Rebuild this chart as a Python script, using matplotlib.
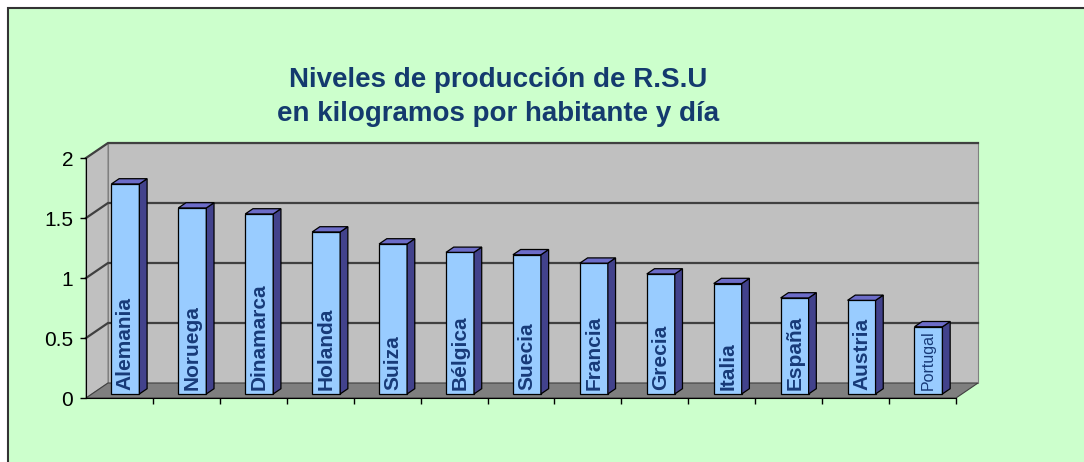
import matplotlib
matplotlib.use("Agg")
import matplotlib.pyplot as plt
from matplotlib.patches import Polygon, Rectangle

# data
paises = ["Alemania", "Noruega", "Dinamarca", "Holanda", "Suiza", "Bélgica",
          "Suecia", "Francia", "Grecia", "Italia", "España", "Austria", "Portugal"]
kg_hab_dia = [1.75, 1.55, 1.50, 1.35, 1.25, 1.18, 1.16, 1.09, 1.00, 0.92, 0.80, 0.78, 0.56]
y_ticks = [0, 0.5, 1, 1.5, 2]
y_tick_labels = ["0", "0.5", "1", "1.5", "2"]
title_lines = ["Niveles de producción de R.S.U", "en kilogramos por habitante y día"]

W, H = 1084, 462
plt.rcParams["font.family"] = ["Liberation Sans", "DejaVu Sans"]

fig = plt.figure(figsize=(W / 100, H / 100), dpi=100)
fig.patch.set_facecolor("white")
fig.patches.append(Rectangle((7.5 / W, -0.1), 1.2, (H - 7.5) / H + 0.1,
                             transform=fig.transFigure, facecolor="#ccffcc",
                             edgecolor="#333333", linewidth=1.5, zorder=-5))

ax = fig.add_axes([86 / W, (H - 398) / H, 870 / W, 240 / H])
ax.set_zorder(1)
ax.patch.set_visible(False)
n = len(paises)
xmin, xmax = -0.5, n - 0.5
ymax = 2.0
ax.set_xlim(xmin, xmax)
ax.set_ylim(0, ymax)

# 3D depth offsets (data units)
dx = 22 / 870 * n
dy = 15 / 120
wall = "#c0c0c0"
grid_c = "#404040"

# back wall, left wall, floor
ax.add_patch(Polygon([(xmin + dx, dy), (xmax + dx, dy), (xmax + dx, ymax + dy),
                      (xmin + dx, ymax + dy)], closed=True, facecolor=wall,
                     edgecolor="#808080", lw=0.8, clip_on=False, zorder=1))
ax.add_patch(Polygon([(xmin, 0), (xmin + dx, dy), (xmin + dx, ymax + dy), (xmin, ymax)],
                     closed=True, facecolor=wall, edgecolor="#808080", lw=0.8,
                     clip_on=False, zorder=1))
ax.add_patch(Polygon([(xmin, 0), (xmax, 0), (xmax + dx, dy), (xmin + dx, dy)],
                     closed=True, facecolor="#7f7f7f", edgecolor="#404040", lw=0.8,
                     clip_on=False, zorder=2))

for v in y_ticks[1:]:
    ax.plot([xmin, xmin + dx, xmax + dx], [v, v + dy, v + dy], color=grid_c,
            lw=1.6, clip_on=False, zorder=1.5)

# bars with front face, side and top
f = 0.27
depth = 0.35
bw = 0.418
xs = [i + f * dx for i in range(n)]
bars = ax.bar(xs, kg_hab_dia, width=bw, bottom=f * dy, color="#99ccff",
              edgecolor="black", linewidth=0.9, zorder=3)
for bar in bars:
    x0 = bar.get_x()
    x1 = x0 + bar.get_width()
    y0 = bar.get_y()
    y1 = y0 + bar.get_height()
    ddx, ddy = depth * dx, depth * dy
    ax.add_patch(Polygon([(x1, y0), (x1 + ddx, y0 + ddy), (x1 + ddx, y1 + ddy), (x1, y1)],
                         closed=True, facecolor="#42428c", edgecolor="black",
                         lw=0.9, zorder=3, clip_on=False))
    ax.add_patch(Polygon([(x0, y1), (x1, y1), (x1 + ddx, y1 + ddy), (x0 + ddx, y1 + ddy)],
                         closed=True, facecolor="#6c6cc8", edgecolor="black",
                         lw=0.9, zorder=3, clip_on=False))

for bar, name in zip(bars, paises):
    small = name == "Portugal"
    ax.text(bar.get_x() + bar.get_width() / 2, bar.get_y() + 0.03, name,
            rotation=90, ha="center", va="bottom", color="#173a78",
            fontsize=11.5 if small else 15, fontweight="normal" if small else "bold",
            zorder=4)

# axes
for side in ["top", "right"]:
    ax.spines[side].set_visible(False)
ax.spines["left"].set_color("black")
ax.spines["bottom"].set_color("black")
ax.spines["left"].set_zorder(2.5)
ax.spines["bottom"].set_zorder(2.5)
ax.set_yticks(y_ticks)
ax.set_yticklabels(y_tick_labels)
ax.tick_params(axis="y", length=4.3, width=1, pad=5, labelsize=15, colors="black")
ax.set_xticks([xmin + k for k in range(1, n + 1)])
ax.set_xticklabels([])
ax.tick_params(axis="x", length=4, width=1, colors="black")

# title
fig.text(498 / W, 1 - 87 / H, title_lines[0], ha="center", va="baseline",
         fontsize=20, fontweight="bold", color="#143a6e")
fig.text(498 / W, 1 - 121 / H, title_lines[1], ha="center", va="baseline",
         fontsize=20, fontweight="bold", color="#143a6e")

fig.savefig("out.png", dpi=100)
